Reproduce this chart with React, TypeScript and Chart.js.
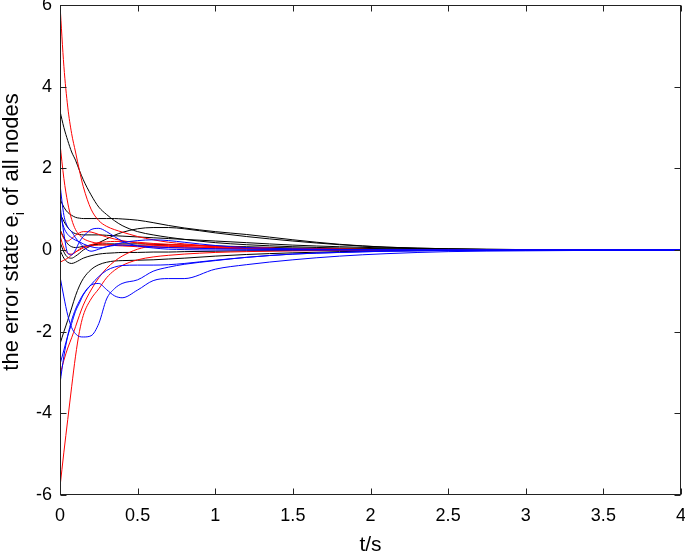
import React, { useEffect, useRef } from 'react';
import { Chart, registerables } from 'chart.js';

Chart.register(...registerables);

// time grid (s)
const T = [0, 0.025, 0.05, 0.075, 0.1, 0.125, 0.15, 0.2, 0.25, 0.3, 0.35, 0.4, 0.5, 0.6, 0.7, 0.8, 1.0, 1.2, 1.5, 1.8, 2.1, 2.5, 3.0, 3.5, 4.0];

// black series
const black1 = [3.4, 3.0, 2.68, 2.4, 2.2, 1.95, 1.72, 1.35, 1.05, 0.87, 0.72, 0.6, 0.45, 0.37, 0.31, 0.26, 0.18, 0.13, 0.08, 0.05, 0.03, 0.015, 0.005, 0.001, 0];
const black2 = [1.25, 1.05, 0.92, 0.85, 0.8, 0.78, 0.77, 0.77, 0.77, 0.77, 0.77, 0.76, 0.73, 0.67, 0.6, 0.54, 0.45, 0.38, 0.25, 0.14, 0.07, 0.03, 0.01, 0.002, 0];
const black3 = [0.2, -0.05, -0.18, -0.2, -0.15, -0.08, 0.0, 0.1, 0.18, 0.27, 0.36, 0.43, 0.52, 0.55, 0.55, 0.52, 0.42, 0.33, 0.22, 0.13, 0.07, 0.03, 0.01, 0.002, 0];
const black4 = [-2.3, -2.0, -1.72, -1.42, -1.12, -0.88, -0.7, -0.48, -0.36, -0.3, -0.27, -0.26, -0.25, -0.24, -0.22, -0.2, -0.15, -0.11, -0.07, -0.04, -0.02, -0.01, -0.003, 0, 0];
const black5 = [0.5, 0.3, 0.15, 0.08, 0.06, 0.07, 0.09, 0.12, 0.14, 0.15, 0.15, 0.15, 0.15, 0.14, 0.13, 0.12, 0.1, 0.08, 0.05, 0.03, 0.02, 0.01, 0.003, 0, 0];
const black6 = [0.0, -0.2, -0.3, -0.33, -0.3, -0.25, -0.2, -0.14, -0.1, -0.08, -0.07, -0.06, -0.06, -0.05, -0.05, -0.04, -0.03, -0.02, -0.015, -0.01, -0.005, 0, 0, 0, 0];
const black7 = [0.9, 0.7, 0.55, 0.45, 0.4, 0.38, 0.37, 0.37, 0.37, 0.36, 0.35, 0.34, 0.32, 0.3, 0.28, 0.26, 0.22, 0.18, 0.12, 0.08, 0.05, 0.02, 0.008, 0.002, 0];

// red series
const red1 = [6.0, 4.5, 3.5, 2.85, 2.4, 1.95, 1.55, 1.0, 0.72, 0.58, 0.5, 0.44, 0.33, 0.25, 0.19, 0.15, 0.09, 0.06, 0.03, 0.02, 0.01, 0.005, 0.001, 0, 0];
const red2 = [2.6, 1.75, 1.15, 0.75, 0.5, 0.37, 0.28, 0.2, 0.16, 0.14, 0.13, 0.12, 0.11, 0.1, 0.09, 0.08, 0.06, 0.045, 0.03, 0.02, 0.01, 0.005, 0.001, 0, 0];
const red3 = [0.35, 0.05, -0.08, -0.1, -0.05, 0.02, 0.07, 0.13, 0.18, 0.2, 0.21, 0.21, 0.19, 0.16, 0.14, 0.12, 0.08, 0.06, 0.03, 0.02, 0.01, 0.005, 0.001, 0, 0];
const red4 = [0.5, 0.28, 0.22, 0.28, 0.36, 0.42, 0.45, 0.44, 0.38, 0.32, 0.27, 0.23, 0.17, 0.13, 0.1, 0.08, 0.05, 0.035, 0.02, 0.01, 0.005, 0.002, 0, 0, 0];
const red5 = [-3.06, -2.7, -2.4, -2.15, -1.88, -1.6, -1.35, -0.98, -0.68, -0.45, -0.28, -0.15, 0.02, 0.1, 0.12, 0.12, 0.09, 0.06, 0.03, 0.015, 0.008, 0.003, 0, 0, 0];
const red6 = [-5.8, -4.95, -4.15, -3.35, -2.6, -2.0, -1.6, -1.2, -0.95, -0.68, -0.5, -0.38, -0.24, -0.17, -0.13, -0.1, -0.06, -0.04, -0.02, -0.01, -0.005, 0, 0, 0, 0];
const red7 = [-0.3, -0.25, -0.2, -0.12, -0.05, 0.0, 0.05, 0.1, 0.12, 0.12, 0.11, 0.1, 0.08, 0.07, 0.06, 0.05, 0.04, 0.03, 0.02, 0.01, 0.005, 0, 0, 0, 0];

// blue series
const blue1 = [1.6, 0.85, 0.56, 0.45, 0.3, 0.18, 0.08, -0.03, 0.02, 0.08, 0.11, 0.12, 0.1, 0.08, 0.06, 0.05, 0.03, 0.02, 0.01, 0.005, 0, 0, 0, 0, 0];
const blue2 = [1.1, 0.4, -0.08, -0.12, 0.0, 0.2, 0.33, 0.5, 0.53, 0.45, 0.33, 0.22, 0.1, 0.05, 0.02, 0.01, 0, 0, 0, 0, 0, 0, 0, 0, 0];
const blue3 = [0.9, 0.55, 0.38, 0.3, 0.24, 0.2, 0.15, 0.08, 0.05, 0.08, 0.13, 0.18, 0.23, 0.25, 0.23, 0.19, 0.11, 0.06, 0.03, 0.015, 0.007, 0.003, 0, 0, 0];
const blue4 = [-0.65, -1.15, -1.6, -1.9, -2.05, -2.12, -2.13, -2.1, -1.8, -1.2, -0.95, -0.82, -0.73, -0.52, -0.42, -0.35, -0.26, -0.18, -0.1, -0.06, -0.03, -0.015, -0.005, 0, 0];
const blue5 = [-3.27, -2.6, -2.1, -1.72, -1.45, -1.25, -1.08, -0.86, -0.82, -0.97, -1.12, -1.17, -0.98, -0.75, -0.7, -0.7, -0.47, -0.36, -0.24, -0.15, -0.09, -0.04, -0.02, -0.008, 0];
const blue6 = [-2.8, -2.45, -2.1, -1.8, -1.5, -1.3, -1.1, -0.85, -0.65, -0.5, -0.42, -0.38, -0.37, -0.37, -0.36, -0.33, -0.25, -0.18, -0.1, -0.06, -0.03, -0.01, 0, 0, 0];

const BLUES = [blue1, blue2, blue3, blue4, blue5, blue6];
const REDS = [red1, red2, red3, red4, red5, red6, red7];
const BLACKS = [black1, black2, black3, black4, black5, black6, black7];

const X_TICKS = [0, 0.5, 1, 1.5, 2, 2.5, 3, 3.5, 4];
const Y_TICKS = [-6, -4, -2, 0, 2, 4, 6];
const X_TITLE = 't/s';
const Y_TITLE_A = 'the error state e';
const Y_TITLE_SUB = 'i';
const Y_TITLE_B = ' of all nodes';

const FONT = '"Liberation Sans", Arial, Helvetica, sans-serif';

const framePlugin = {
  id: 'frame',
  afterDraw(chart: any) {
    const { ctx, chartArea: a, scales } = chart;
    ctx.save();
    ctx.strokeStyle = '#222';
    ctx.lineWidth = 1;
    const L = Math.round(a.left) + 0.5;
    const R = Math.round(a.right) - 0.5;
    const Tp = Math.round(a.top) + 0.5;
    const B = Math.round(a.bottom) - 0.5;
    ctx.strokeRect(L, Tp, R - L, B - Tp);
    ctx.beginPath();
    const tl = 6;
    for (const v of X_TICKS) {
      const px = Math.round(scales.x.getPixelForValue(v)) + 0.5;
      ctx.moveTo(px, B); ctx.lineTo(px, B - tl);
      ctx.moveTo(px, Tp); ctx.lineTo(px, Tp + tl);
    }
    for (const v of Y_TICKS) {
      const py = Math.round(scales.y.getPixelForValue(v)) + 0.5;
      ctx.moveTo(L, py); ctx.lineTo(L + tl, py);
      ctx.moveTo(R, py); ctx.lineTo(R - tl, py);
    }
    ctx.stroke();

    ctx.fillStyle = '#000';
    // x title
    ctx.font = `21px ${FONT}`;
    ctx.textAlign = 'center';
    ctx.textBaseline = 'alphabetic';
    ctx.fillText(X_TITLE, (a.left + a.right) / 2, 551);

    // y title with subscript
    const mainFont = `22px ${FONT}`;
    const subFont = `15px ${FONT}`;
    ctx.font = mainFont;
    const wA = ctx.measureText(Y_TITLE_A).width;
    const wB = ctx.measureText(Y_TITLE_B).width;
    ctx.font = subFont;
    const wS = ctx.measureText(Y_TITLE_SUB).width;
    const total = wA + wS + wB;
    ctx.translate(18, 232);
    ctx.rotate(-Math.PI / 2);
    ctx.textAlign = 'left';
    let x0 = -total / 2;
    ctx.font = mainFont;
    ctx.fillText(Y_TITLE_A, x0, 0);
    x0 += wA;
    ctx.font = subFont;
    ctx.fillText(Y_TITLE_SUB, x0, 6);
    x0 += wS;
    ctx.font = mainFont;
    ctx.fillText(Y_TITLE_B, x0, 0);
    ctx.restore();
  },
};

function makeDs(arr: number[], color: string) {
  return {
    data: T.map((t, i) => ({ x: t, y: arr[i] })),
    borderColor: color,
    backgroundColor: color,
    borderWidth: 1,
    pointRadius: 0,
    fill: false,
    cubicInterpolationMode: 'monotone' as const,
  };
}

export default function App() {
  const ref = useRef<HTMLCanvasElement | null>(null);
  useEffect(() => {
    if (!ref.current) return;
    const datasets = [
      ...BLUES.map((a) => makeDs(a, '#0000ff')),
      ...REDS.map((a) => makeDs(a, '#ff0000')),
      ...BLACKS.map((a) => makeDs(a, '#000000')),
    ];
    const chart = new Chart(ref.current, {
      type: 'line',
      data: { datasets },
      options: {
        animation: false,
        responsive: false,
        maintainAspectRatio: false,
        layout: { padding: { top: 5, right: 4, left: 0, bottom: 0 } },
        plugins: { legend: { display: false }, tooltip: { enabled: false }, title: { display: false } },
        scales: {
          x: {
            type: 'linear',
            min: 0,
            max: 4,
            afterFit: (s: any) => { s.height = 58; s.paddingLeft = 0; s.paddingRight = 0; },
            grid: { display: false, drawTicks: false },
            border: { display: false },
            ticks: {
              stepSize: 0.5,
              padding: 10,
              color: '#000',
              font: { family: FONT, size: 18 },
              maxRotation: 0,
              autoSkip: false,
              callback: (v: any) => String(Number(v)),
            },
          },
          y: {
            type: 'linear',
            min: -6,
            max: 6,
            afterFit: (s: any) => { s.width = 60; s.paddingTop = 0; s.paddingBottom = 0; },
            grid: { display: false, drawTicks: false },
            border: { display: false },
            ticks: {
              stepSize: 2,
              padding: 8,
              color: '#000',
              font: { family: FONT, size: 18 },
              callback: (v: any) => String(Number(v)),
            },
          },
        },
      },
      plugins: [framePlugin],
    });
    return () => chart.destroy();
  }, []);
  return (
    <div style={{ position: 'fixed', left: 0, top: 0, width: 685, height: 553, background: '#fff' }}>
      <canvas ref={ref} width={685} height={553} style={{ width: 685, height: 553, display: 'block' }} />
    </div>
  );
}
